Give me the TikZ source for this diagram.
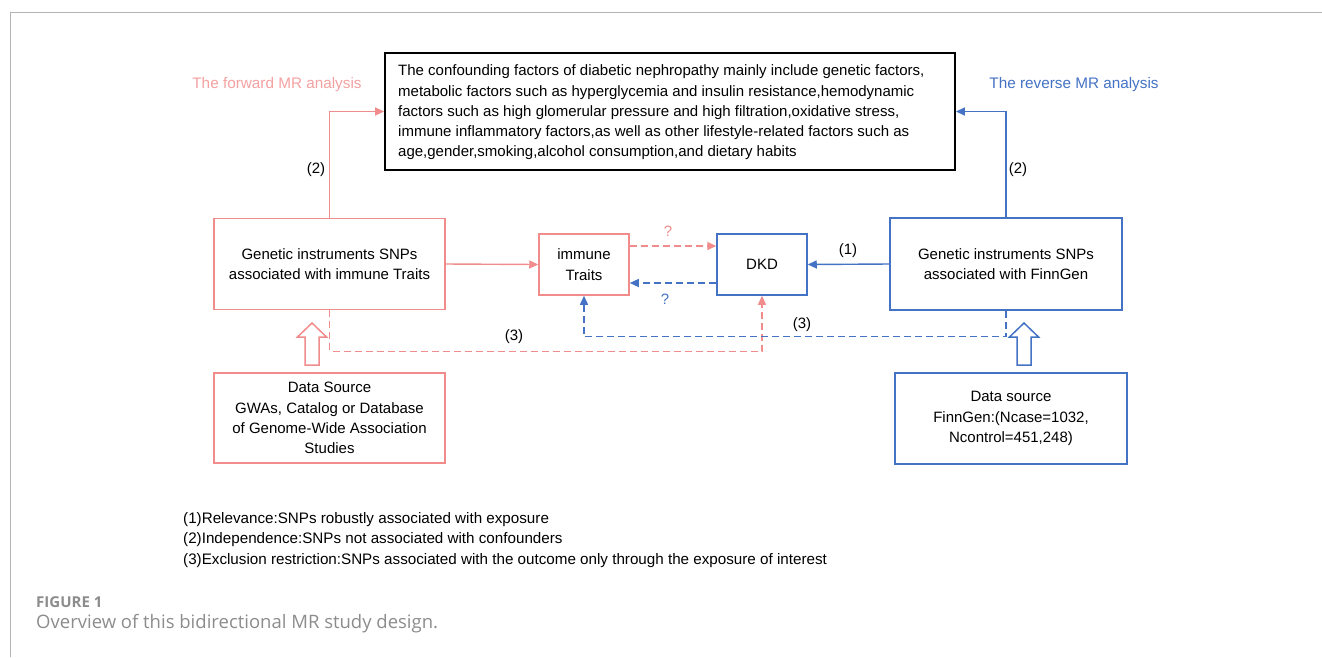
\documentclass[tikz,border=0pt]{standalone}
\usepackage{fontspec}
\setmainfont{Liberation Sans}
\newfontfamily\capfont{Open Sans}
\usetikzlibrary{arrows.meta,calc}
\definecolor{pk}{HTML}{F08C8C}
\definecolor{pktxt}{HTML}{F4A0A0}
\definecolor{bl}{HTML}{4472C4}
\definecolor{capgray}{HTML}{8C8C8C}
\definecolor{framegray}{HTML}{B4B4B4}
\begin{document}
\begin{tikzpicture}[x=1pt,y=-1pt,
  txt/.style={font=\fontsize{15}{20.3}\selectfont, text=black},
  pbox/.style={draw=pk, line width=1.5pt, align=center, inner sep=0pt, txt},
  bbox/.style={draw=bl, line width=1.5pt, align=center, inner sep=0pt, txt},
  pline/.style={draw=pk, line width=1.4pt},
  bline/.style={draw=bl, line width=1.4pt},
  tip/.style={-{Triangle[length=9pt,width=8pt]}},
  dsh/.style={dash pattern=on 7pt off 4pt},
  lbl/.style={txt, inner sep=0pt}
]
\useasboundingbox (0,0) rectangle (1322,657);
% frame
\draw[framegray, line width=0.8pt] (10,657) -- (10,12) -- (1322,12);

% nodes
\node[draw=black, line width=1.8pt, minimum width=570pt, minimum height=117pt, inner sep=0pt] (conf) at (670,111.5) {};
\node[txt, anchor=west, align=left, inner sep=0pt] (conftxt) at (398,112.5) {The confounding factors of diabetic nephropathy mainly include genetic factors,\\metabolic factors such as hyperglycemia and insulin resistance,hemodynamic\\factors such as high glomerular pressure and high filtration,oxidative stress,\\immune inflammatory factors,as well as other lifestyle-related factors such as\\age,gender,smoking,alcohol consumption,and dietary habits};

\node[pbox, minimum width=231pt, minimum height=91pt] (lbox) at (329.5,264) {Genetic instruments SNPs\\associated with immune Traits};
\node[pbox, minimum width=90pt, minimum height=61pt] (imm) at (584,264.5) {immune\\Traits};
\node[bbox, minimum width=90pt, minimum height=61pt] (dkd) at (762,264.5) {DKD};
\node[bbox, minimum width=232pt, minimum height=92pt] (rbox) at (1006,264) {Genetic instruments SNPs\\associated with FinnGen};
\node[pbox, minimum width=231pt, minimum height=90pt] (lsrc) at (329.5,418) {Data Source\\GWAs, Catalog or Database\\of Genome-Wide Association\\Studies};
\node[bbox, minimum width=232pt, minimum height=91pt] (rsrc) at (1011,418.5) {Data source\\FinnGen:(Ncase=1032,\\Ncontrol=451,248)};

% titles
\node[font=\fontsize{15.3}{17}\selectfont, text=pktxt, inner sep=0pt] (ftitle) at (277,85) {The forward MR analysis};
\node[font=\fontsize{15.3}{17}\selectfont, text=bl, inner sep=0pt] (rtitle) at (1074,85) {The reverse MR analysis};

% (2) connectors
\draw[pline, tip] (lbox.north) |- (conf.west);
\draw[bline, tip] (rbox.north) |- (conf.east);
\node[lbl] (l2a) at (316,170) {(2)};
\node[lbl] (l2b) at (1018,170) {(2)};

% exposure
\draw[pline, tip] (lbox.east) -- (imm.west);
\draw[bline, tip] (rbox.west) -- (dkd.east);
\node[lbl] (l1) at (848,251) {(1)};

% ? links
\draw[pline, dsh, tip] ([yshift=18.5pt]imm.east) -- ([yshift=18.5pt]dkd.west);
\draw[bline, dsh, tip] ([yshift=-18.5pt]dkd.west) -- ([yshift=-18.5pt]imm.east);
\node[txt, text=pk, inner sep=0pt] (q1) at (668,231) {?};
\node[txt, text=bl, inner sep=0pt] (q2) at (665,299) {?};

% (3) links
\draw[pline, dsh, tip] (lbox.south) -- ++(0,41) -| (dkd.south);
\draw[bline, dsh, tip] (rbox.south) -- ++(0,26) -| (imm.south);
\node[lbl] (l3a) at (514,337) {(3)};
\node[lbl] (l3b) at (802,325) {(3)};

% hollow arrows
\draw[pk, line width=1.5pt, line join=miter, fill=white]
  (312,323) -- (326.5,337) -- (319,337) -- (319,365) -- (305,365) -- (305,337) -- (297.5,337) -- cycle;
\draw[bl, line width=1.5pt, line join=miter, fill=white]
  (1024,323) -- (1038.5,337) -- (1031,337) -- (1031,365) -- (1017,365) -- (1017,337) -- (1009.5,337) -- cycle;

% legend
\node[font=\fontsize{15.2}{20.5}\selectfont, anchor=west, align=left, inner sep=0pt] (legend) at (183,540)
  {(1)Relevance:SNPs robustly associated with exposure\\(2)Independence:SNPs not associated with confounders\\(3)Exclusion restriction:SNPs associated with the outcome only through the exposure of interest};

% caption
\node[font=\capfont\bfseries\fontsize{15}{17}\selectfont, text=capgray, anchor=west, inner sep=0pt] (figlbl) at (36,602) {FIGURE 1};
\node[font=\capfont\fontsize{18.5}{21}\selectfont, text=capgray, anchor=west, inner sep=0pt] (cap) at (36,624) {Overview of this bidirectional MR study design.};
\end{tikzpicture}
\end{document}
